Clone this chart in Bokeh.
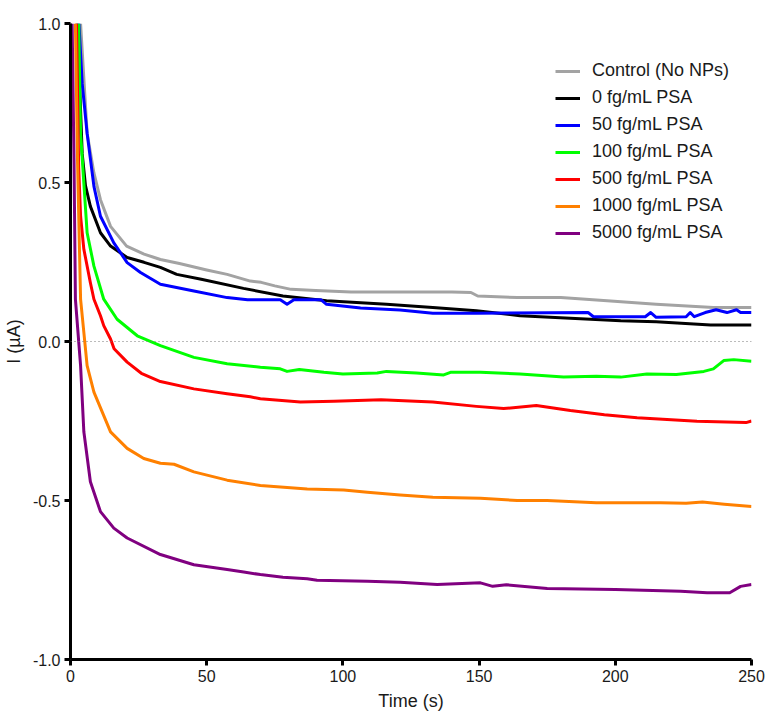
from bokeh.plotting import figure
from bokeh.models import Range1d, FixedTicker, NumeralTickFormatter, Span, Legend, LegendItem
from bokeh.embed import file_html
from bokeh.resources import INLINE

# ---- data ----
series_names = ["Control (No NPs)", "0 fg/mL PSA", "50 fg/mL PSA", "100 fg/mL PSA",
                "500 fg/mL PSA", "1000 fg/mL PSA", "5000 fg/mL PSA"]
series_colors = ["#A3A3A3", "#000000", "#0000FF", "#00FF00", "#FF0000", "#FF8000", "#800080"]

t_control = [3.7, 6.1, 8.6, 11, 14.7, 20.6, 27, 33, 40, 45, 50, 57.5, 66, 70, 75, 81, 90, 103, 120, 140, 147, 149.5, 164, 180, 197, 215, 236, 250]
i_control = [1.0, 0.655, 0.53, 0.446, 0.362, 0.30, 0.275, 0.258, 0.245, 0.235, 0.225, 0.211, 0.19, 0.186, 0.175, 0.164, 0.16, 0.156, 0.156, 0.156, 0.154, 0.143, 0.138, 0.138, 0.128, 0.117, 0.107, 0.107]

t_0 = [2.5, 4.3, 5.5, 7.3, 11, 14.7, 20.8, 27, 33, 39, 48, 63.5, 78, 94, 116, 133, 149, 165, 183.5, 202, 215, 235, 250]
i_0 = [1.0, 0.59, 0.49, 0.425, 0.342, 0.30, 0.264, 0.249, 0.233, 0.211, 0.196, 0.167, 0.143, 0.128, 0.117, 0.107, 0.097, 0.081, 0.073, 0.065, 0.062, 0.052, 0.052]

t_50 = [3.1, 4.3, 6.1, 8.6, 11, 15.9, 20.8, 25.7, 33, 45.3, 57.5, 65, 77, 79.5, 82, 92, 94, 106.5, 121, 133, 149, 190, 192, 211, 213, 215, 226, 227.5, 229, 233, 237, 241, 244.5, 246, 250]
i_50 = [1.0, 0.81, 0.655, 0.488, 0.394, 0.31, 0.248, 0.217, 0.18, 0.159, 0.138, 0.131, 0.131, 0.117, 0.131, 0.131, 0.117, 0.105, 0.099, 0.089, 0.089, 0.091, 0.078, 0.078, 0.091, 0.076, 0.078, 0.091, 0.078, 0.091, 0.1, 0.091, 0.1, 0.091, 0.091]

t_100 = [3.0, 3.7, 4.9, 6.1, 8.6, 12.2, 17.1, 24.5, 33, 45.3, 57.5, 69.7, 77, 79.5, 84, 93, 100, 112.6, 116, 127, 137, 139.5, 150.5, 165, 181, 193, 202, 211.6, 222.4, 232.5, 236, 239.8, 243.5, 250]
i_100 = [1.0, 0.655, 0.498, 0.342, 0.237, 0.133, 0.07, 0.018, -0.013, -0.05, -0.07, -0.081, -0.086, -0.094, -0.088, -0.097, -0.102, -0.099, -0.094, -0.099, -0.105, -0.097, -0.097, -0.102, -0.112, -0.109, -0.112, -0.102, -0.104, -0.094, -0.086, -0.06, -0.057, -0.062]

t_500 = [2.2, 3.0, 3.7, 4.9, 7.3, 8.6, 11, 12.2, 14.7, 16, 20.8, 26, 33, 45.3, 57.5, 66, 69.7, 84.4, 96.7, 114, 133, 149, 159, 171, 183.5, 196, 208, 230, 248, 250]
i_500 = [1.0, 0.55, 0.394, 0.29, 0.185, 0.133, 0.081, 0.05, 0.008, -0.023, -0.065, -0.1, -0.126, -0.149, -0.164, -0.174, -0.18, -0.19, -0.188, -0.183, -0.19, -0.204, -0.211, -0.201, -0.217, -0.23, -0.24, -0.251, -0.255, -0.25]

t_1000 = [1.8, 2.6, 3.7, 6.1, 8.6, 14.7, 20.8, 26.9, 33, 38, 45.3, 57.5, 69.7, 86.9, 100.3, 109, 121, 133, 150.5, 164, 175, 193, 216.6, 226, 232, 240, 250]
i_1000 = [1.0, 0.56, 0.133, -0.076, -0.159, -0.284, -0.336, -0.368, -0.383, -0.386, -0.41, -0.436, -0.453, -0.464, -0.467, -0.474, -0.483, -0.49, -0.493, -0.5, -0.5, -0.507, -0.507, -0.509, -0.505, -0.512, -0.519]

t_5000 = [0.6, 1.3, 1.8, 3.7, 4.9, 7.3, 11, 15.9, 20.8, 33, 45.3, 57.5, 63.6, 69.7, 78, 86.9, 90.5, 109, 121, 134.6, 150.5, 155, 160, 175, 200, 224, 233.7, 242, 246, 250]
i_5000 = [1.0, 0.56, 0.133, -0.076, -0.284, -0.441, -0.535, -0.587, -0.618, -0.67, -0.702, -0.717, -0.725, -0.733, -0.741, -0.746, -0.751, -0.754, -0.757, -0.764, -0.759, -0.77, -0.765, -0.777, -0.78, -0.785, -0.79, -0.79, -0.77, -0.764]

x_ticks = [0, 50, 100, 150, 200, 250]
y_ticks = [-1.0, -0.5, 0.0, 0.5, 1.0]

series_t = [t_control, t_0, t_50, t_100, t_500, t_1000, t_5000]
series_i = [i_control, i_0, i_50, i_100, i_500, i_1000, i_5000]

FONT = "Liberation Sans"
TXT = "#1a1a1a"

p = figure(width=766, height=713, output_backend="svg", toolbar_location=None,
           x_range=Range1d(0, 250), y_range=Range1d(-1, 1),
           min_border_left=70, min_border_right=15, min_border_top=23, min_border_bottom=51)
p.outline_line_color = None
p.background_fill_color = "white"
p.grid.visible = False

for ax in (p.xaxis[0], p.yaxis[0]):
    ax.axis_line_width = 3
    ax.axis_line_color = "black"
    ax.major_tick_line_width = 3
    ax.major_tick_line_color = "black"
    ax.major_tick_out = 6
    ax.major_tick_in = 0
    ax.minor_tick_line_color = None
    ax.major_label_text_font = FONT
    ax.major_label_text_font_size = "16px"
    ax.major_label_text_color = TXT
    ax.axis_label_text_font = FONT
    ax.axis_label_text_font_size = "18px"
    ax.axis_label_text_font_style = "normal"
    ax.axis_label_text_color = TXT

p.xaxis.ticker = FixedTicker(ticks=x_ticks)
p.yaxis.ticker = FixedTicker(ticks=y_ticks)
p.yaxis.formatter = NumeralTickFormatter(format="0.0")
p.xaxis.major_label_standoff = 4
p.yaxis.major_label_standoff = 4
p.xaxis.axis_label = "Time (s)"
p.yaxis.axis_label = "I (µA)"
p.xaxis.axis_label_standoff = 6
p.yaxis.axis_label_standoff = 6

p.add_layout(Span(location=0, dimension="width", line_color="#777777",
                  line_width=1.2, line_dash="1 3"))

items = []
for name, col, tt, ii in zip(series_names, series_colors, series_t, series_i):
    r = p.line(tt, ii, line_color=col, line_width=3, line_join="round")
    items.append(LegendItem(label=name, renderers=[r]))

legend = Legend(items=items, location=(485, 416), padding=0, margin=0, spacing=6,
                glyph_width=25, glyph_height=20, label_height=20, label_standoff=12,
                label_text_font=FONT, label_text_font_size="18px", label_text_color=TXT,
                background_fill_alpha=0, border_line_color=None)
p.add_layout(legend)

open("out.html", "w").write(file_html(p, INLINE))
